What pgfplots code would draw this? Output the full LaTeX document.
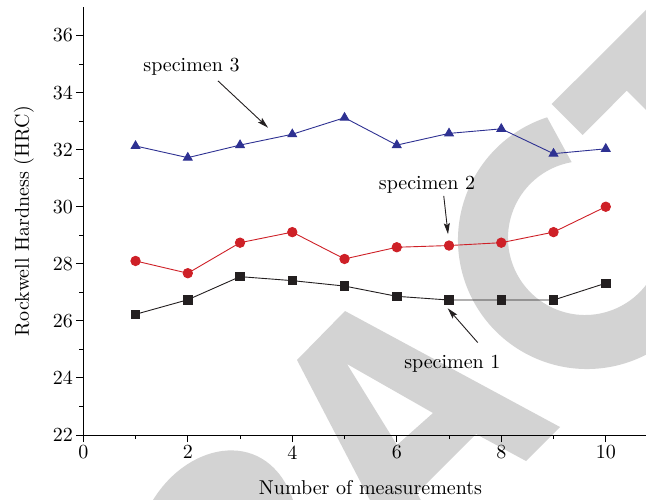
\documentclass[border=0pt]{standalone}
\usepackage{fontspec}
\setmainfont{lmroman10-regular}[Extension=.otf]
\usepackage{pgfplots}
\pgfplotsset{compat=1.18}
\usetikzlibrary{arrows.meta}
\definecolor{wm}{RGB}{211,211,211}
\definecolor{sblue}{RGB}{46,49,146}
\definecolor{sred}{RGB}{206,32,39}
\definecolor{sblack}{RGB}{35,31,32}
\begin{document}
\begin{tikzpicture}[font=\fontsize{20}{24}\selectfont]
% watermark (background decoration)
\begin{scope}[x=1pt,y=-1pt]
\clip (0,0) rectangle (646,500);
\fill[wm] (153,500) .. controls (190,440) and (268,428) .. (293,500) -- cycle;
\fill[wm,even odd rule] (345,311) -- (560,427) -- (526,461) -- (476,434) -- (417,493) -- (444,543) -- (410,577) -- (297,360) -- cycle
  (347,364) -- (433,413) -- (397,445) -- cycle;
\fill[wm] (587,240) ++(-108:129) arc[start angle=-108,end angle=-342,radius=129] -- ([shift={(585,238)}]-342:77) arc[start angle=-342,end angle=-100,radius=77] -- cycle;
\fill[wm] (551.7,104) -- (700,-44) -- (760,20) -- (700,164) -- (626.7,90.7) -- (582.7,135) -- cycle;
\end{scope}
\begin{axis}[
  at={(83.3pt,-435pt)}, anchor=south west,
  scale only axis, width=562.7pt, height=428pt,
  xmin=0, xmax=10.77, ymin=22, ymax=37,
  axis lines=left, axis line style={-, line width=0.9pt, black},
  xtick={0,2,...,10}, ytick={22,24,...,36},
  minor xtick={1,3,...,9}, minor ytick={23,25,...,35},
  tick align=outside, major tick length=7pt, minor tick length=4pt,
  every tick/.style={black, line width=0.9pt},
  tick label style={font=\fontsize{20}{24}\selectfont},
  /pgf/number format/assume math mode=true,
  xlabel={Number of measurements}, ylabel={Rockwell Hardness (HRC)},
  label style={font=\fontsize{20}{24}\selectfont},
  xlabel style={at={(axis description cs:0.5104,-0.1379)}, anchor=base},
  ylabel style={at={(axis description cs:-0.1054,0.5)}, anchor=center, rotate=0},
]
\addplot[sblack, line width=0.9pt, mark=square*, mark size=4.2pt, mark options={solid, fill=sblack}] coordinates {
(1,26.23) (2,26.74) (3,27.55) (4,27.41) (5,27.22) (6,26.86) (7,26.73) (8,26.73) (9,26.73) (10,27.32)};
\addplot[sred, line width=0.9pt, mark=*, mark size=4.7pt, mark options={solid, fill=sred}] coordinates {
(1,28.10) (2,27.67) (3,28.74) (4,29.11) (5,28.17) (6,28.58) (7,28.64) (8,28.74) (9,29.11) (10,30.00)};
\addplot[sblue, line width=0.9pt, mark=triangle*, mark size=5pt, mark options={solid, fill=sblue}] coordinates {
(1,32.13) (2,31.72) (3,32.16) (4,32.54) (5,33.12) (6,32.16) (7,32.57) (8,32.73) (9,31.86) (10,32.03)};
\node[anchor=base] at (axis cs:2.071,34.74) {specimen 3};
\draw[-{Stealth[length=11pt,width=6pt,inset=2pt]}, line width=0.9pt, sblack] (axis cs:2.578,34.41) -- (axis cs:3.536,32.77);
\node[anchor=base] at (axis cs:6.579,30.59) {specimen 2};
\draw[-{Stealth[length=11pt,width=6pt,inset=2pt]}, line width=0.9pt, sblack] (axis cs:6.899,30.38) -- (axis cs:6.981,29.04);
\node[anchor=base] at (axis cs:7.064,24.314) {specimen 1};
\draw[-{Stealth[length=11pt,width=6pt,inset=2pt]}, line width=0.9pt, sblack] (axis cs:7.549,25.24) -- (axis cs:6.975,26.44);
\end{axis}
\pgfresetboundingbox
\path[use as bounding box] (0,0) rectangle (646pt,-500pt);
\end{tikzpicture}
\end{document}
